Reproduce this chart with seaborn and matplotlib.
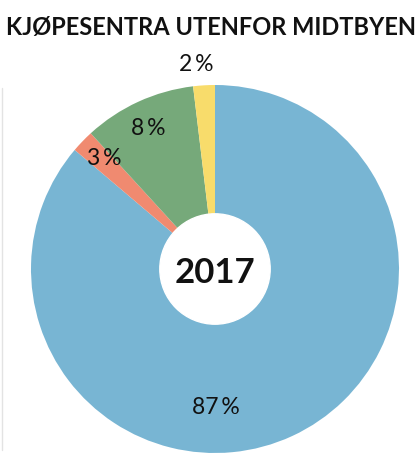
import matplotlib
matplotlib.use("Agg")
from matplotlib import pyplot as plt
from matplotlib.patches import Circle
from matplotlib.lines import Line2D
import seaborn as sns

# wedge sizes as drawn, and the printed labels
categories = ["Midtbyen", "Annet", "Sentrum", "Øvrig"]
values = [86.2, 2.0, 9.9, 1.9]
labels = ["87\u2009%", "3\u2009%", "8\u2009%", "2\u2009%"]
colors = ["#78b5d3", "#f08a70", "#76a97a", "#f8dc6b"]
title = "KJØPESENTRA UTENFOR MIDTBYEN"
year = "2017"

sns.set_theme(style="white")
plt.rcParams['font.family'] = ['Lato', 'DejaVu Sans']

fig = plt.figure(figsize=(4.19, 4.54), dpi=100)
# pie centre (215, 269) px, radius 184 px
ax = fig.add_axes([31 / 419, 1 / 454, 368 / 419, 368 / 454])

wedges, _ = ax.pie(values, colors=colors, startangle=90, counterclock=False,
                   radius=1, wedgeprops=dict(linewidth=0))
ax.set_xlim(-1, 1)
ax.set_ylim(-1, 1)
ax.add_patch(Circle((0, 0), 0.3, color="white", zorder=5))
ax.text(0, -0.02, year, ha="center", va="center", fontsize=25,
        fontweight="bold", color="#111111", zorder=6)

# label spots, in units of the radius
label_pos = [(0.005, -0.75), (-0.6, 0.6), (-0.364, 0.765), (-0.1, 1.11)]
for lab, (lx, ly) in zip(labels, label_pos):
    ax.text(lx, ly, lab, ha="center", va="center", fontsize=16.5, color="#111111")

fig.text(6 / 419, 1 - 28 / 454, title, ha="left", va="center",
         fontsize=17, fontweight="bold", color="#111111")

fig.add_artist(Line2D([1.5 / 419, 1.5 / 419], [1 - 88 / 454, 1 - 450 / 454],
                      color="#e3e3e3", linewidth=1, transform=fig.transFigure))

fig.savefig("out.png", dpi=100)
